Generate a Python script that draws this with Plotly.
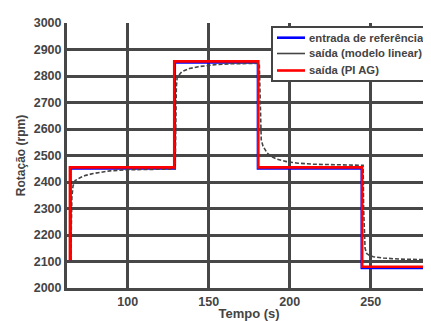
import plotly.graph_objects as go

# Reference input (entrada de referência)
ref_t = [64.8, 64.8, 129.2, 129.2, 180.2, 180.2, 244.3, 244.3, 290.0]
ref_v = [2105, 2450, 2450, 2850, 2850, 2450, 2450, 2075, 2075]

# PI AG output
pi_t = [64.3, 64.3, 128.7, 128.7, 180.6, 180.6, 244.7, 244.7, 290.0]
pi_v = [2105, 2455, 2455, 2855, 2855, 2455, 2455, 2080, 2080]

# Linear model output
lin_t = [64.8, 65.1, 65.5, 66.2, 67.5, 70.5, 74.0, 78.7, 84.0, 89.0, 99.0, 110.0, 128.6,
         129.3, 129.6, 130.0, 130.5, 133.3, 138.0, 143.5, 154.0, 164.0, 181.2,
         181.6, 182.0, 182.4, 183.5, 186.0, 188.5, 192.0, 198.0, 205.0, 215.0, 230.0, 245.3,
         245.6, 246.0, 246.5, 247.5, 249.5, 251.6, 257.8, 268.0, 290.0]
lin_v = [2105, 2250, 2340, 2385, 2405, 2416, 2425, 2432, 2438, 2442, 2446, 2448, 2449,
         2452, 2650, 2760, 2795, 2816, 2828, 2835, 2843, 2846, 2848,
         2700, 2600, 2560, 2535, 2510, 2497, 2486, 2477, 2471, 2467, 2464, 2463,
         2300, 2180, 2150, 2130, 2122, 2118, 2113, 2109, 2106]

x_ticks = [100, 150, 200, 250]
y_ticks = [2000, 2100, 2200, 2300, 2400, 2500, 2600, 2700, 2800, 2900, 3000]

series_names = ["entrada de referência", "saída (modelo linear)", "saída (PI AG)"]
series_colors = ["#0000ff", "#444444", "#ff0000"]

FONT = "Liberation Sans, Arial, sans-serif"
TXT = "#444444"
GRID = "#474747"

# page body has an 8px default margin: figure occupies window pixels 8..431 / 8..321
W, H = 423, 313
ML, MT, MB = 59, 15, 33
PW, PH = W - ML, H - MT - MB
OFF = 8


def px_x(px):
    return (px - OFF - ML) / PW


def px_y(py):
    return (H - MB - (py - OFF)) / PH


fig = go.Figure()
fig.add_trace(go.Scatter(x=ref_t, y=ref_v, mode="lines", name=series_names[0],
                         line=dict(color=series_colors[0], width=2)))
fig.add_trace(go.Scatter(x=lin_t, y=lin_v, mode="lines", name=series_names[1],
                         line=dict(color=series_colors[1], width=1.6, dash="4px,2px")))
fig.add_trace(go.Scatter(x=pi_t, y=pi_v, mode="lines", name=series_names[2],
                         line=dict(color=series_colors[2], width=2.6)))

# legend box drawn in paper space (matches the reference's compact legend)
shapes = [dict(type="rect", xref="paper", yref="paper",
               x0=px_x(272), x1=px_x(445), y0=px_y(81), y1=px_y(27),
               fillcolor="white", line=dict(color="#444444", width=2), layer="above")]
annotations = []
row_y = [37.7, 53.5, 70.5]
sample_w = [2.6, 1.6, 2.6]
for name, col, ry, lw in zip(series_names, series_colors, row_y, sample_w):
    shapes.append(dict(type="line", xref="paper", yref="paper",
                       x0=px_x(277), x1=px_x(305), y0=px_y(ry), y1=px_y(ry),
                       line=dict(color=col, width=lw), layer="above"))
    annotations.append(dict(xref="paper", yref="paper", x=px_x(307), y=px_y(ry),
                            xanchor="left", yanchor="middle", showarrow=False,
                            text=name,
                            font=dict(family=FONT, size=11.3, color=TXT, weight="bold")))

fig.update_layout(
    width=W, height=H,
    margin=dict(l=ML, r=0, t=MT, b=MB, pad=0, autoexpand=False),
    paper_bgcolor="white", plot_bgcolor="white",
    font=dict(family=FONT, color=TXT, size=12),
    showlegend=False,
    shapes=shapes,
    annotations=annotations,
    xaxis=dict(
        range=[62.5, 287.2], tickvals=x_ticks, ticktext=[str(v) for v in x_ticks],
        showgrid=True, gridcolor=GRID, gridwidth=3, automargin=False,
        showline=True, linecolor=GRID, linewidth=3, zeroline=False,
        ticks="", tickfont=dict(family=FONT, size=12.5, color=TXT, weight="bold"),
        title=dict(text="Tempo (s)", font=dict(family=FONT, size=13, color=TXT, weight="bold"),
                   standoff=4),
    ),
    yaxis=dict(
        range=[2000, 3000], tickvals=y_ticks, ticktext=[str(v) for v in y_ticks],
        showgrid=True, gridcolor=GRID, gridwidth=3, automargin=False,
        showline=True, linecolor=GRID, linewidth=3, zeroline=False,
        ticks="", tickfont=dict(family=FONT, size=12.5, color=TXT, weight="bold"),
        title=dict(text="Rotação (rpm)", font=dict(family=FONT, size=12, color=TXT, weight="bold"),
                   standoff=6),
    ),
)

fig.write_html("out.html")
